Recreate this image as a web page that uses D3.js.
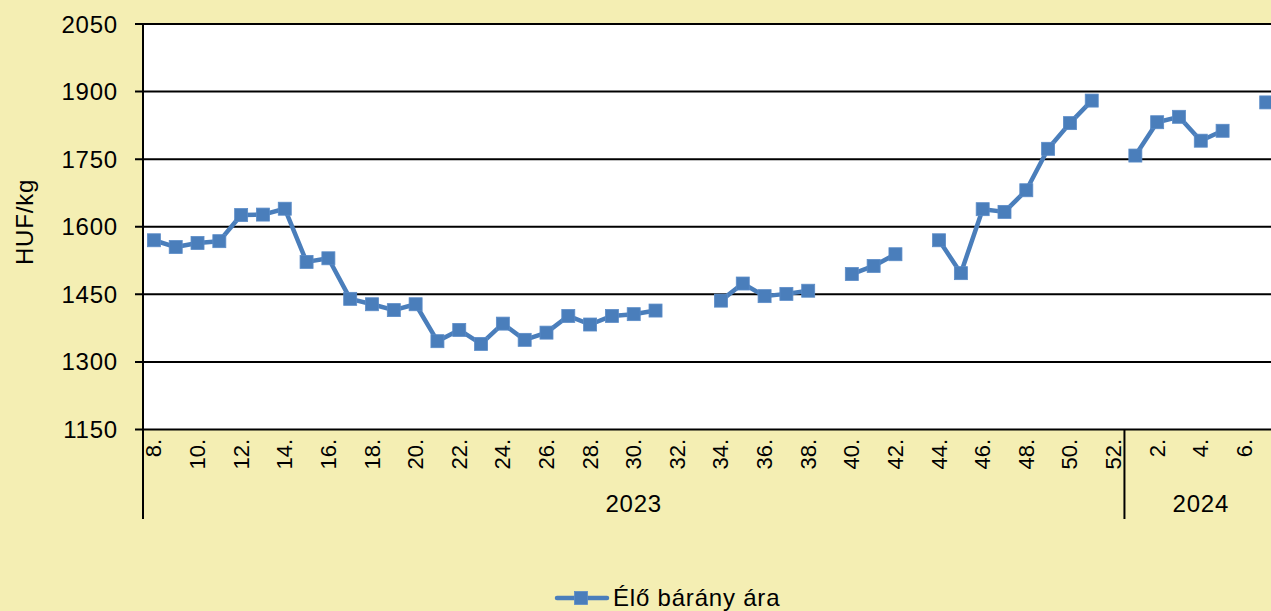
<!DOCTYPE html>
<html>
<head>
<meta charset="utf-8">
<script src="https://cdn.jsdelivr.net/npm/d3@7"></script>
<style>
  html, body { margin: 0; padding: 0; background: #F4EEB3; overflow: hidden; }
  svg { display: block; font-family: Arial, "Liberation Sans", sans-serif; }
</style>
</head>
<body>
<svg id="chart" width="1271" height="611"></svg>
<script>
// Weekly live lamb price (HUF/kg), 2023 week 8 – 2024 week 7
const weeks2023 = [8,9,10,11,12,13,14,15,16,17,18,19,20,21,22,23,24,25,26,27,28,29,30,
  31,32,33,34,35,36,37,38,39,40,41,42,43,44,45,46,47,48,49,50,51,52];
const prices2023 = [1570,1555,1564,1568,1626,1627,1640,1522,1530,1440,1428,1415,1428,1346,
  1371,1340,1385,1349,1365,1402,1383,1402,1406,1414,null,null,1436,1474,1446,1451,1458,null,
  1495,1513,1539,null,1570,1497,1639,1633,1681,1773,1830,1880,null];
const weeks2024 = [1,2,3,4,5,6,7];
const prices2024 = [1758,1832,1844,1791,1813,null,1876];
const years = ["2023", "2024"];
const yTicks = [1150,1300,1450,1600,1750,1900,2050];
const seriesName = "Élő bárány ára";
const yTitle = "HUF/kg";

const rows = [
  ...weeks2023.map((w, i) => ({ year: years[0], week: w, value: prices2023[i] })),
  ...weeks2024.map((w, i) => ({ year: years[1], week: w, value: prices2024[i] }))
];
rows.forEach(d => d.key = d.year + "-" + d.week);

const svg = d3.select("#chart");
const plotLeft = 143, plotTop = 24, plotBottom = 429.5, step = 21.81;
const plotRight = plotLeft + rows.length * step;
const lineColor = "#4A7EBB";
const fontSize = 24;
const spacing = "0.8px";

const x = d3.scaleBand().domain(rows.map(d => d.key)).range([plotLeft, plotRight]).padding(0);
const y = d3.scaleLinear().domain([1150, 2050]).range([plotBottom, plotTop]);

// plot area
svg.append("rect").attr("x", plotLeft).attr("y", plotTop)
  .attr("width", plotRight - plotLeft).attr("height", plotBottom - plotTop).attr("fill", "#fff");

// horizontal grid
svg.append("g").selectAll("line").data(yTicks).join("line")
  .attr("x1", plotLeft - 8).attr("x2", plotRight)
  .attr("y1", d => y(d)).attr("y2", d => y(d))
  .attr("stroke", "#000").attr("stroke-width", 2);

// value axis labels
svg.append("g").selectAll("text").data(yTicks).join("text")
  .attr("x", 118).attr("y", d => y(d))
  .attr("text-anchor", "end").attr("dominant-baseline", "central")
  .attr("font-size", fontSize).attr("letter-spacing", spacing)
  .attr("fill", "#000").text(d => d);

// left axis line, extended through the category label rows
svg.append("line").attr("x1", plotLeft).attr("x2", plotLeft).attr("y1", plotTop - 1).attr("y2", 519)
  .attr("stroke", "#000").attr("stroke-width", 2);

// year separator
const sepX = x(years[1] + "-" + weeks2024[0]);
svg.append("line").attr("x1", sepX).attr("x2", sepX).attr("y1", plotBottom).attr("y2", 519)
  .attr("stroke", "#000").attr("stroke-width", 2);

// week labels (every second week)
const labelRows = rows.filter(d => d.week % 2 === 0);
svg.append("g").selectAll("text").data(labelRows).join("text")
  .attr("transform", d => `translate(${x(d.key) + x.bandwidth() / 2},439) rotate(-90)`)
  .attr("text-anchor", "end").attr("dominant-baseline", "central")
  .attr("font-size", 22)
  .attr("fill", "#000").text(d => d.week + ".");

// year labels
years.forEach(yr => {
  const keys = rows.filter(d => d.year === yr).map(d => d.key);
  const x0 = x(keys[0]), x1 = x(keys[keys.length - 1]) + x.bandwidth();
  svg.append("text").attr("x", (x0 + x1) / 2).attr("y", 503)
    .attr("text-anchor", "middle").attr("dominant-baseline", "central")
    .attr("font-size", fontSize).attr("letter-spacing", spacing)
    .attr("fill", "#000").text(yr);
});

// y title
svg.append("text").attr("transform", "translate(24,222) rotate(-90)")
  .attr("text-anchor", "middle").attr("dominant-baseline", "central")
  .attr("font-size", fontSize).attr("letter-spacing", spacing)
  .attr("fill", "#000").text(yTitle);

// series line (breaks at missing weeks)
const cx = d => x(d.key) + x.bandwidth() / 2;
const line = d3.line().defined(d => d.value != null).x(cx).y(d => y(d.value));
svg.append("path").datum(rows).attr("d", line)
  .attr("fill", "none").attr("stroke", lineColor).attr("stroke-width", 4.5)
  .attr("stroke-linejoin", "round").attr("stroke-linecap", "round");

// square markers
const ms = 13;
svg.append("g").selectAll("rect").data(rows.filter(d => d.value != null)).join("rect")
  .attr("x", d => cx(d) - ms / 2).attr("y", d => y(d.value) - ms / 2)
  .attr("width", ms).attr("height", ms)
  .attr("fill", lineColor).attr("stroke", "#5B8CC8").attr("stroke-width", 0.8);

// legend
const lg = svg.append("g");
lg.append("line").attr("x1", 557).attr("x2", 607).attr("y1", 598).attr("y2", 598)
  .attr("stroke", lineColor).attr("stroke-width", 4.5).attr("stroke-linecap", "round");
lg.append("rect").attr("x", 581 - ms / 2).attr("y", 598 - ms / 2).attr("width", ms).attr("height", ms)
  .attr("fill", lineColor).attr("stroke", "#5B8CC8").attr("stroke-width", 0.8);
lg.append("text").attr("x", 613).attr("y", 597).attr("dominant-baseline", "central")
  .attr("font-size", fontSize).attr("letter-spacing", spacing)
  .attr("fill", "#000").text(seriesName);
</script>
</body>
</html>
